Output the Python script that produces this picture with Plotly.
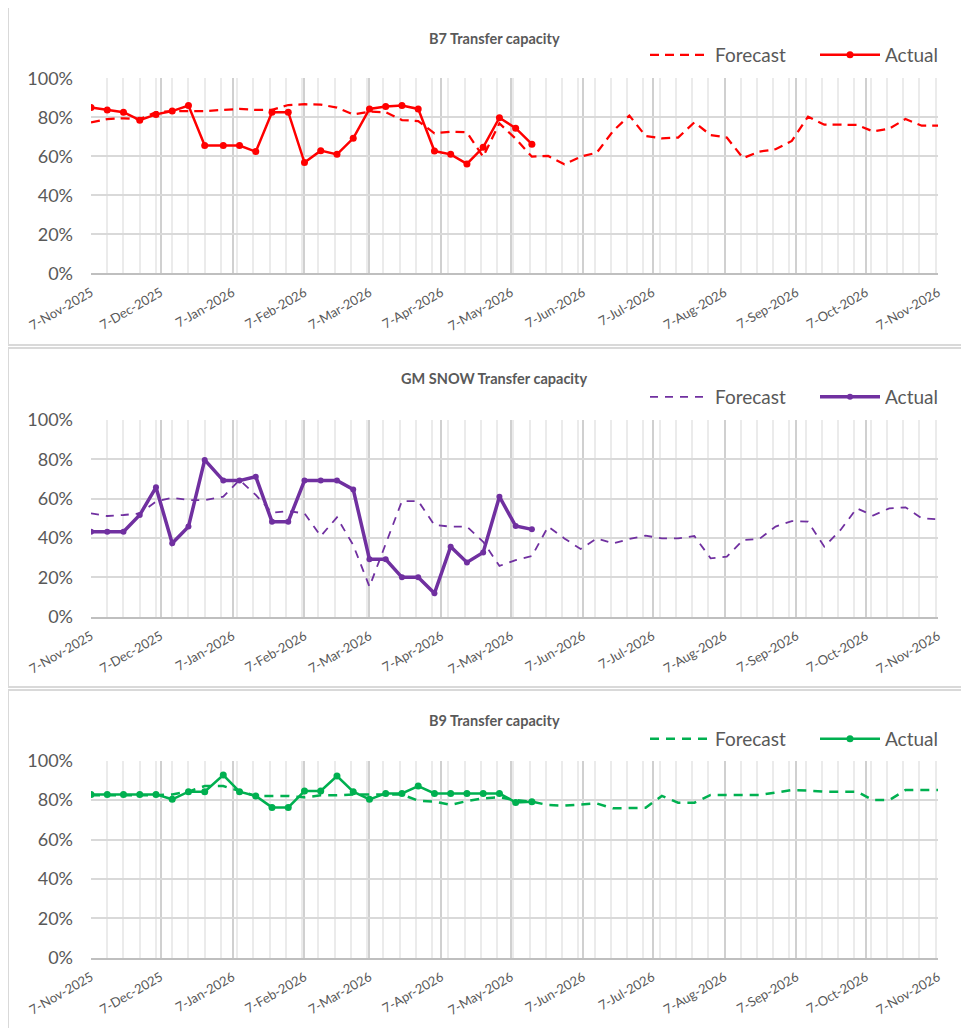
import pandas as pd
import plotly.graph_objects as go

# ---- data ----
# weekly dates (8 weeks to end of Dec 2025, then weekly from 3-Jan-2026)
dates = list(pd.date_range("2025-11-07", periods=8, freq="7D")) + \
        list(pd.date_range("2026-01-03", periods=45, freq="7D"))
actual_dates = dates[:28]

b7_forecast = [77.4, 79.1, 79.5, 79.1, 82.6, 83.2, 83.2, 83.2, 83.8, 84.3,
               83.8, 83.8, 86.3, 86.7, 86.5, 85.0, 81.5, 82.9, 82.6, 78.6,
               78.1, 71.8, 72.6, 72.3, 59.8, 76.9, 69.0, 59.8, 60.2, 55.9,
               59.8, 61.9, 73.0, 80.9, 70.4, 69.2, 69.6, 77.4, 70.9, 69.6,
               59.1, 62.4, 63.6, 67.9, 80.3, 76.2, 76.2, 76.1, 72.8, 74.2,
               79.1, 75.7, 75.7]
b7_actual = [85.0, 83.8, 82.6, 78.5, 81.5, 83.2, 86.0, 65.5, 65.5, 65.5,
             62.4, 82.6, 82.6, 56.8, 62.9, 61.0, 69.2, 84.3, 85.5, 86.0,
             84.3, 62.7, 61.0, 56.1, 64.6, 79.8, 74.4, 66.2]

gm_forecast = [52.5, 51.2, 51.7, 52.5, 58.5, 60.5, 59.3, 59.3, 61.0, 69.5,
               61.9, 52.9, 53.7, 52.5, 41.0, 50.5, 36.4, 15.3, 37.0, 58.8,
               58.8, 46.6, 45.8, 45.8, 38.1, 25.8, 28.8, 30.8, 45.8, 39.8,
               34.4, 39.8, 37.3, 39.5, 41.2, 39.8, 39.8, 41.0, 29.7, 30.5,
               39.0, 39.5, 45.8, 48.6, 48.3, 35.6, 44.1, 55.1, 51.4, 55.1,
               55.6, 50.0, 49.5]
gm_actual = [43.2, 43.2, 43.2, 51.7, 65.8, 37.3, 45.8, 79.7, 69.2, 69.2,
             71.2, 48.3, 48.3, 69.2, 69.2, 69.2, 64.7, 29.2, 29.2, 20.0,
             20.0, 11.9, 35.6, 27.6, 32.7, 61.0, 46.1, 44.4]

b9_forecast = [82.5, 82.5, 82.5, 82.5, 82.5, 82.9, 84.3, 87.1, 87.1, 84.6,
               82.1, 82.1, 82.1, 81.4, 82.4, 82.4, 82.9, 82.9, 83.0, 82.8,
               79.7, 79.2, 77.6, 79.5, 80.9, 81.4, 80.0, 79.2, 77.5, 77.2,
               77.8, 78.3, 75.8, 75.8, 76.1, 82.1, 78.7, 78.7, 82.6, 82.6,
               82.6, 82.6, 83.8, 85.1, 84.8, 84.3, 84.3, 84.3, 80.0, 80.0,
               85.1, 85.1, 85.1]
b9_actual = [82.9, 82.9, 82.9, 82.9, 82.9, 80.4, 84.3, 84.3, 92.7, 84.3,
             82.1, 76.3, 76.3, 84.6, 84.6, 92.2, 84.3, 80.4, 83.4, 83.4,
             87.1, 83.4, 83.4, 83.4, 83.4, 83.4, 78.8, 79.2]

titles = ["B7 Transfer capacity", "GM SNOW Transfer capacity", "B9 Transfer capacity"]
colors = ["#FF0000", "#7030A0", "#00B050"]
y_ticks = [0, 20, 40, 60, 80, 100]
y_labels = ["0%", "20%", "40%", "60%", "80%", "100%"]

panels = [
    (b7_forecast, b7_actual, dict(fw=2.25, dash="9px,6px", aw=2.5, ms=7)),
    (gm_forecast, gm_actual, dict(fw=1.8, dash="8px,7px", aw=3.5, ms=6)),
    (b9_forecast, b9_actual, dict(fw=2.5, dash="9px,7px", aw=2.5, ms=7)),
]

# the page body has an 8px margin: the figure is sized/positioned to compensate
OFF = 8
W, H = 969 - OFF, 1028 - OFF
FONT = "Lato"
GRAY = "#595959"


def px_x(v):
    return (v - OFF) / W


def px_y(v):
    return 1 - (v - OFF) / H


# layout geometry (reference pixels)
plot_x = (91, 938)
plot_y = [(78.3, 273.3), (420.0, 616.7), (760.7, 957.7)]
title_y = [38, 378, 720]
legend_y = [55, 397, 739]
box_y = [(7, 345), (348, 687), (690, 1040)]

fig = go.Figure()
layout = dict(
    width=W, height=H, margin=dict(l=0, r=0, t=0, b=0, autoexpand=False),
    paper_bgcolor="white", plot_bgcolor="white",
    font=dict(family=FONT, color=GRAY),
    shapes=[], annotations=[],
)

for i, (fc, ac, st) in enumerate(panels):
    n = "" if i == 0 else str(i + 1)
    leg = "legend" if i == 0 else "legend" + str(i + 1)
    col = colors[i]
    fig.add_trace(go.Scatter(
        x=dates, y=fc, mode="lines", name="Forecast",
        line=dict(color=col, width=st["fw"], dash=st["dash"]),
        xaxis="x" + n, yaxis="y" + n, legend=leg, hoverinfo="skip"))
    fig.add_trace(go.Scatter(
        x=actual_dates, y=ac, mode="lines+markers", name="Actual",
        line=dict(color=col, width=st["aw"]),
        marker=dict(color=col, size=st["ms"]),
        xaxis="x" + n, yaxis="y" + n, legend=leg, hoverinfo="skip"))

    y0p, y1p = plot_y[i]
    layout["xaxis" + n] = dict(
        domain=[px_x(plot_x[0]), px_x(plot_x[1])],
        anchor="y" + n,
        type="date",
        range=["2025-11-07", "2026-11-07"],
        tick0="2025-11-07", dtick="M1",
        tickformat="%-d-%b-%Y", tickangle=-30,
        tickfont=dict(family=FONT, size=13, color=GRAY),
        showgrid=True, gridcolor="#d0d0d0", gridwidth=2,
        minor=dict(dtick=7 * 86400000, tick0="2025-11-07", showgrid=True,
                   gridcolor="#ebebeb", gridwidth=2, ticks=""),
        showline=True, linecolor="#bfbfbf", linewidth=2,
        ticks="", zeroline=False, fixedrange=True, automargin=False,
        ticklabelstandoff=5,
    )
    layout["yaxis" + n] = dict(
        domain=[px_y(y1p), px_y(y0p)],
        anchor="x" + n,
        range=[0, 100], tickvals=y_ticks, ticktext=y_labels,
        tickfont=dict(family=FONT, size=18, color=GRAY),
        showgrid=True, gridcolor="#d9d9d9", gridwidth=2,
        zeroline=False, showline=False, ticks="",
        ticklabelstandoff=17, fixedrange=True, automargin=False,
    )
    layout[leg] = dict(
        orientation="h", x=px_x(645), xanchor="left",
        y=px_y(legend_y[i]), yanchor="middle",
        font=dict(family=FONT, size=19, color=GRAY),
        itemwidth=60, entrywidth=95, entrywidthmode="pixels",
        bgcolor="rgba(0,0,0,0)", traceorder="normal",
    )
    layout["annotations"].append(dict(
        text="<b>" + titles[i] + "</b>", xref="paper", yref="paper",
        x=px_x(494), y=px_y(title_y[i]), showarrow=False,
        xanchor="center", yanchor="middle",
        font=dict(family=FONT, size=14.5, color=GRAY)))
    b0, b1 = box_y[i]
    layout["shapes"].append(dict(
        type="rect", xref="paper", yref="paper",
        x0=px_x(8), x1=1.02, y0=px_y(b1), y1=px_y(b0),
        line=dict(color="#d9d9d9", width=2), fillcolor="rgba(0,0,0,0)",
        layer="below"))

fig.update_layout(**layout)
fig.write_html("out.html")
